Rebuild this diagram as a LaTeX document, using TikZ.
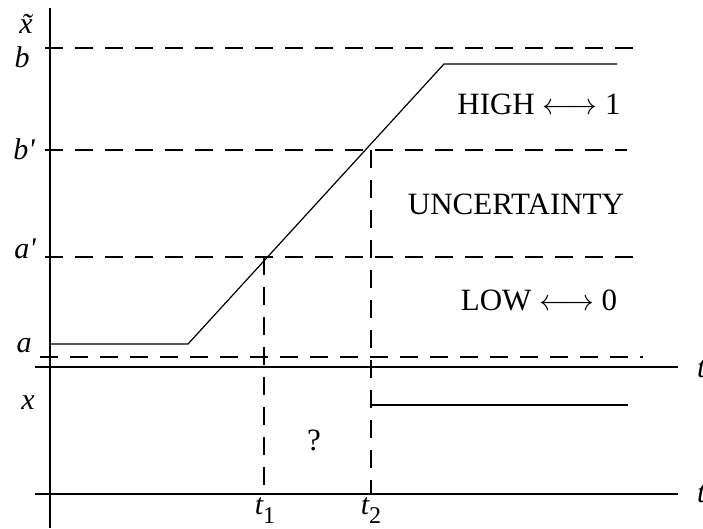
\documentclass[tikz,border=0pt]{standalone}
\usepackage{graphicx}
\usepackage{fontspec}
\setmainfont{Liberation Serif}
\usetikzlibrary{positioning}

\newcommand{\subidx}[1]{\raisebox{-0.3em}{\upshape\fontsize{24}{26}\selectfont #1}}
\newcommand{\equivarrow}{\scalebox{1.2}{$\longleftrightarrow$}}

\begin{document}
\begin{tikzpicture}[
    x=1pt, y=-1pt,
    every node/.style={font=\fontsize{31}{35}\selectfont, inner sep=0pt},
    axis/.style={line width=1.6pt},
    guide/.style={line width=1.6pt, dash pattern=on 18pt off 12pt},
    curve/.style={line width=1.2pt},
    sig/.style={line width=1.6pt},
    axlabel/.style={font=\fontsize{30}{34}\selectfont\itshape},
    region/.style={font=\fontsize{31}{35}\selectfont},
]
\useasboundingbox (0,0) rectangle (703,528);

% axes
\coordinate (ytop) at (50,8);
\coordinate (ybot) at (50,528);
\coordinate (t1_l) at (35,367);
\coordinate (t1_r) at (678,367);
\coordinate (t2_l) at (35,494);
\coordinate (t2_r) at (678,494);
\draw[axis] (ytop) -- (ybot);
\draw[axis] (t1_l) -- (t1_r);
\draw[axis] (t2_l) -- (t2_r);

% level lines
\coordinate (b_l) at (45,48);    \coordinate (b_r) at (637,48);
\coordinate (bp_l) at (45,150);  \coordinate (bp_r) at (627,150);
\coordinate (ap_l) at (45,257);  \coordinate (ap_r) at (643,257);
\coordinate (a_l) at (40,357);   \coordinate (a_r) at (643,357);
\draw[guide] (b_l) -- (b_r);
\draw[guide] (bp_l) -- (bp_r);
\draw[guide] (ap_l) -- (ap_r);
\draw[guide] (a_l) -- (a_r);

% ramp of x tilde
\coordinate (r_0) at (50,344);
\coordinate (r_1) at (188,344);
\coordinate (r_2) at (444,64);
\coordinate (r_3) at (617,64);
\draw[curve] (r_0) -- (r_1) -- (r_2) -- (r_3);

% crossing times
\coordinate (c_1) at (264,257);
\coordinate (c_2) at (371,150);
\coordinate (c_1b) at (264,494);
\coordinate (c_2b) at (371,494);
\draw[guide] (c_1) -- (c_1b);
\draw[guide] (c_2) -- (c_2b);

% output x
\coordinate (x_0) at (371,405);
\coordinate (x_1) at (628,405);
\draw[sig] (x_0) -- (x_1);

% labels
\node[axlabel] (l_xt) at (26,24) {\~{x}};
\node[axlabel] (l_b) at (22,57) {b};
\node[axlabel] (l_bp) at (24,149) {b\textquotesingle};
\node[axlabel] (l_ap) at (25,249) {a\textquotesingle};
\node[axlabel] (l_a) at (24,346) {a};
\node[axlabel] (l_x) at (28,403) {x};
\node[axlabel, anchor=west] (l_t) at (697,369) {t};
\node[axlabel, anchor=west] (l_tb) at (697,494) {t};
\node[axlabel] (l_t1) at (265,511) {t\subidx{1}};
\node[axlabel] (l_t2) at (371,511) {t\subidx{2}};
\node[region] (l_q) at (314,440) {?};
\node[region] (l_high) at (539,104) {HIGH \equivarrow{} 1};
\node[region] (l_unc) at (516,204) {UNCERTAINTY};
\node[region] (l_low) at (539,300) {LOW \equivarrow{} 0};
\end{tikzpicture}
\end{document}
